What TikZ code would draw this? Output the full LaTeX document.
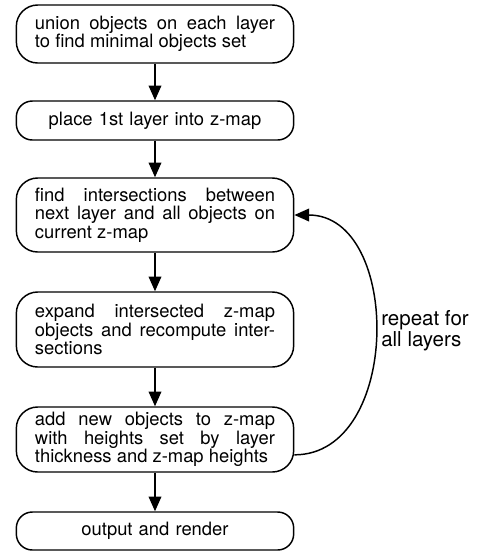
\documentclass[tikz,border=0pt]{standalone}
\usepackage{fontspec}
\setmainfont{TeX Gyre Heros}
\usepackage{tikz}
\usetikzlibrary{arrows.meta}
\tikzset{
BOX/.style ={draw=black,line width=1.1pt,rounded corners=16pt,text width=180pt,inner xsep=14pt,inner ysep=0pt,align=justify,font=\fontsize{13.8pt}{13.8pt}\selectfont,minimum height=#1},
BOX/.default = 29pt,
FLOW/.style ={draw=black,line width=1.1pt,-{Triangle[length=11pt,width=9.5pt]}},
LABEL/.style ={align=left,inner sep=0pt,font=\fontsize{15.4pt}{15.8pt}\selectfont},
}
\begin{document}
\begin{tikzpicture}[x=0.75pt,y=-0.75pt] %z-map build loop
	\useasboundingbox (0,0) rectangle (483,551);
	\node[BOX=43.5pt] (union) at (155,34) {union objects on each layer\linebreak to find minimal objects set};
	\node[BOX=29.25pt,align=center,rounded corners=12pt] (first) at (155,120.5) {place 1st layer into z-map};
	\node[BOX=55.5pt] (find) at (155,215) {find intersections between\linebreak next layer and all objects on\linebreak current z-map};
	\node[BOX=56.25pt] (expand) at (155,329.5) {expand intersected z-map\linebreak objects and recompute inter-\linebreak sections};
	\node[BOX=48.75pt] (add) at (155,439.5) {add new objects to z-map\linebreak with heights set by layer\linebreak thickness and z-map heights};
	\node[BOX=28.5pt,align=center,rounded corners=12pt] (render) at (155,531) {output and render};
	\path[FLOW] (union) -- (first);
	\path[FLOW] (first) -- (find);
	\path[FLOW] (find) -- (expand);
	\path[FLOW] (expand) -- (add);
	\path[FLOW] (add) -- (render);
	\path[FLOW] ([yshift=-11.5pt]add.east) to[out=0,in=0,looseness=1.15] (find.east);
	\node[LABEL,anchor=west] (repeat) at (381,331) {repeat for\\all layers};
\end{tikzpicture}
\end{document}
